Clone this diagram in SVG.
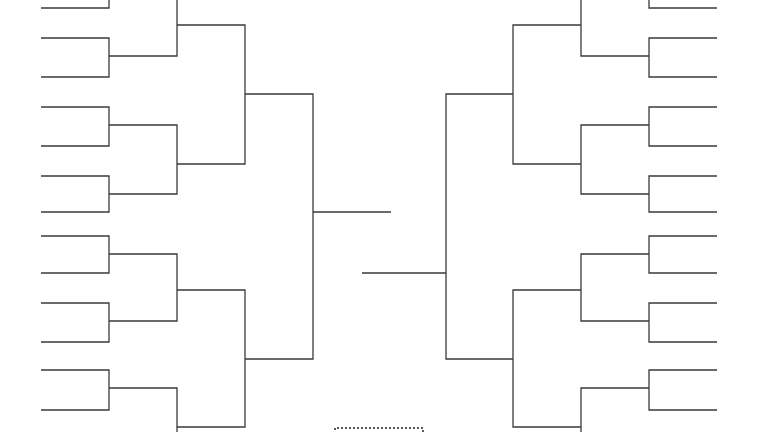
<svg xmlns="http://www.w3.org/2000/svg" width="768" height="432" viewBox="0 0 768 432">
<style>.l{fill:none;stroke:#3a3a3a;stroke-width:1.3}.d{fill:none;stroke:#222;stroke-width:1.5;stroke-dasharray:2 2}</style>
<rect width="768" height="432" fill="#fff"/>
<g id="connectors" class="l">
<!-- left round 1 -->
<path d="M41,-25H109V8H41M41,38H109V77H41M41,107H109V146H41M41,176H109V212H41M41,236H109V273H41M41,303H109V342H41M41,370H109V410H41M41,440H109"/>
<!-- left round 2 -->
<path d="M109,-9H177V56H109M109,125H177V194H109M109,254H177V321H109M109,388H177V460"/>
<!-- left round 3 -->
<path d="M177,25H245V164H177M177,290H245V427H177"/>
<!-- left round 4 -->
<path d="M245,94H313V359H245M313,212H391"/>
<!-- right round 1 -->
<path d="M717,-25H649V8H717M717,38H649V77H717M717,107H649V146H717M717,176H649V212H717M717,236H649V273H717M717,303H649V342H717M717,370H649V410H717M717,440H649"/>
<!-- right round 2 -->
<path d="M649,-9H581V56H649M649,125H581V194H649M649,254H581V321H649M649,388H581V460"/>
<!-- right round 3 -->
<path d="M581,25H513V164H581M581,290H513V427H581"/>
<!-- right round 4 -->
<path d="M513,94H446V359H513M446,273H362"/>
</g>
<g id="champion">
<path class="d" d="M335,434V428H423V434"/>
</g>
</svg>
